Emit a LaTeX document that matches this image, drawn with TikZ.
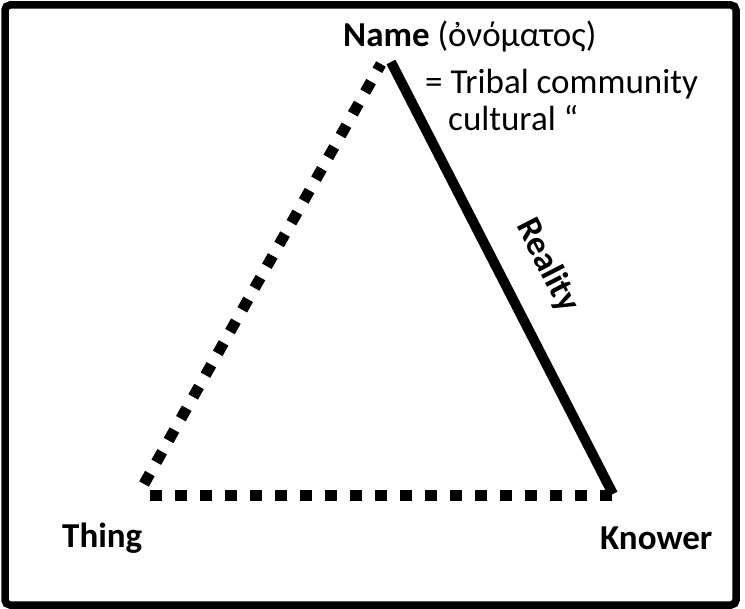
\documentclass[tikz,border=0pt]{standalone}
\usepackage{fontspec}
\setmainfont{Carlito}

\begin{document}
\begin{tikzpicture}[x=1pt,y=-1pt]
    \tikzstyle{every node}=[inner sep=0pt, font=\fontsize{35}{42}\selectfont]
    \tikzstyle{dots}=[line width=11pt, dash pattern=on 12pt off 13pt]
    \tikzstyle{solid line}=[line width=10pt]
    \useasboundingbox (0,0) rectangle (745,609);
    \draw[line width=7.5pt, rounded corners=5pt] (5,5) rectangle (736,605);
    % corners of the triangle
    \coordinate (apex-l) at (381,64);
    \coordinate (apex-r) at (391,62);
    \coordinate (thing-c) at (144,484);
    \coordinate (thing-b) at (150,496);
    \coordinate (knower-c) at (613,494);
    \coordinate (knower-b) at (618,496);
    % labels
    \node[anchor=base west] (name) at (343,47) {\textbf{Name} (ὀνόματος)};
    \node[anchor=base west] (tribal) at (425,94) {= Tribal community};
    \node[anchor=base west] (cultural) at (448,131) {cultural “};
    \node[anchor=base west] (thing) at (62,548) {\textbf{Thing}};
    \node[anchor=base west] (knower) at (600,550) {\textbf{Knower}};
    % sides
    \draw[dots] (thing-c) -- (apex-l);
    \draw[dots] (thing-b) -- (knower-b);
    \draw[solid line] (apex-r) -- (knower-c)
        node[pos=0.52, sloped, above=26pt] (reality) {\textbf{Reality}};
\end{tikzpicture}
\end{document}
